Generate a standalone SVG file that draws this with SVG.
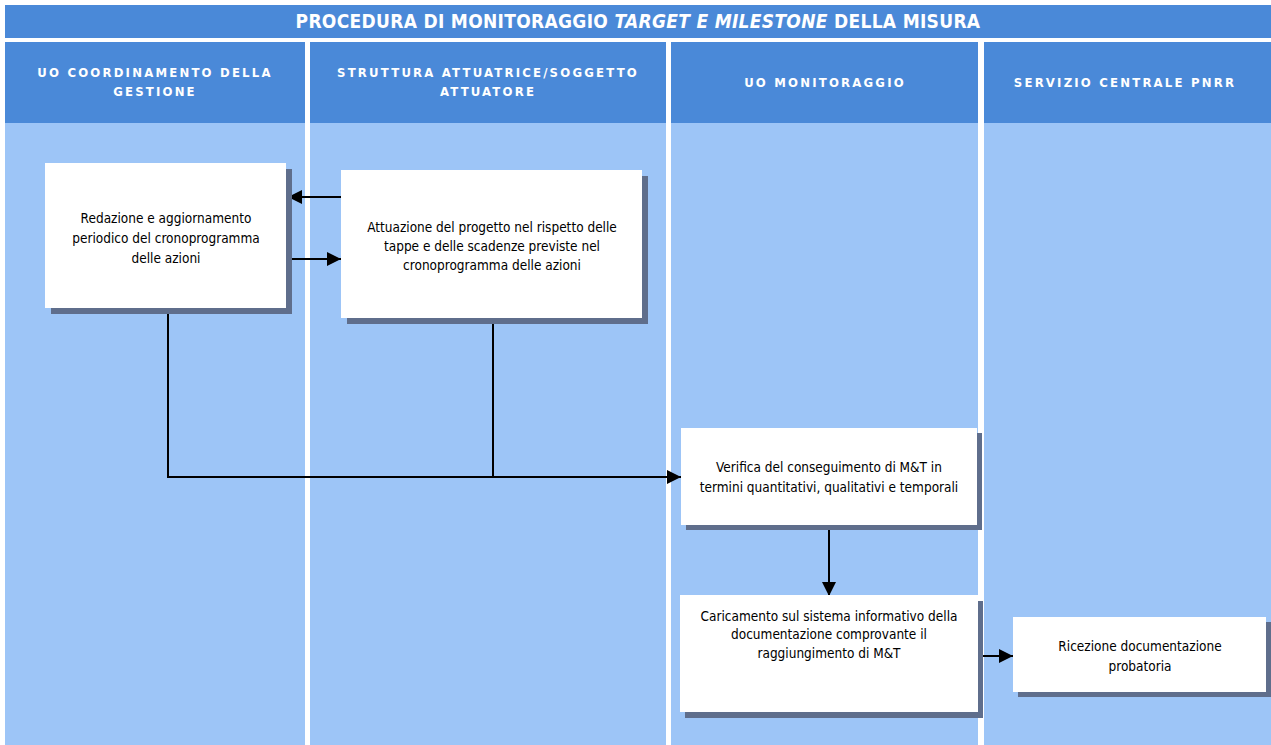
<svg xmlns="http://www.w3.org/2000/svg" width="1271" height="745" viewBox="0 0 1271 745">
<defs>
<style>
.hdr{fill:#4a89d8}
.lane{fill:#9dc5f7}
.box{fill:#ffffff}
.sh{fill:#5f6e8c}
.ht{font-family:"DejaVu Sans Condensed","Liberation Sans",sans-serif;font-weight:bold;font-size:13px;fill:#ffffff;text-anchor:middle;letter-spacing:2.2px}
.tt{font-family:"DejaVu Sans Condensed","Liberation Sans",sans-serif;font-weight:bold;font-size:19px;fill:#ffffff;text-anchor:middle;letter-spacing:0.3px}
.bt{font-family:"DejaVu Sans Condensed","Liberation Sans",sans-serif;font-size:13.5px;fill:#000000;text-anchor:middle}
.ln{stroke:#000;stroke-width:2;fill:none}
</style>
<marker id="ah2" viewBox="0 0 10 10" refX="10" refY="5" markerWidth="14" markerHeight="14" markerUnits="userSpaceOnUse" orient="auto">
<path d="M0,0 L10,5 L0,10 z" fill="#000"/>
</marker>
</defs>
<rect width="1271" height="745" fill="#ffffff"/>
<g id="title">
<rect class="hdr" x="5" y="5" width="1266" height="33"/>
<text class="tt" x="638" y="28">PROCEDURA DI MONITORAGGIO <tspan font-style="italic">TARGET E MILESTONE</tspan> DELLA MISURA</text>
</g>
<g id="lane1">
<rect class="hdr" x="5" y="42" width="300" height="81"/>
<rect class="lane" x="5" y="123" width="300" height="622"/>
<text class="ht" x="155" y="77">UO COORDINAMENTO DELLA</text>
<text class="ht" x="155" y="96">GESTIONE</text>
</g>
<g id="lane2">
<rect class="hdr" x="310" y="42" width="356" height="81"/>
<rect class="lane" x="310" y="123" width="356" height="622"/>
<text class="ht" x="488" y="77">STRUTTURA ATTUATRICE/SOGGETTO</text>
<text class="ht" x="488" y="96">ATTUATORE</text>
</g>
<g id="lane3">
<rect class="hdr" x="671" y="42" width="307" height="81"/>
<rect class="lane" x="671" y="123" width="307" height="622"/>
<text class="ht" x="825" y="87">UO MONITORAGGIO</text>
</g>
<g id="lane4">
<rect class="hdr" x="984" y="42" width="287" height="81"/>
<rect class="lane" x="984" y="123" width="287" height="622"/>
<text class="ht" x="1125" y="87">SERVIZIO CENTRALE PNRR</text>
</g>
<g id="connectors">
<line class="ln" x1="341" y1="197" x2="288" y2="197" marker-end="url(#ah2)"/>
<line class="ln" x1="288" y1="259" x2="341" y2="259" marker-end="url(#ah2)"/>
<polyline class="ln" points="168,309 168,477 681,477" marker-end="url(#ah2)"/>
<line class="ln" x1="493" y1="319" x2="493" y2="477"/>
<line class="ln" x1="829" y1="526" x2="829" y2="596" marker-end="url(#ah2)"/>
<line class="ln" x1="980" y1="656" x2="1013" y2="656" marker-end="url(#ah2)"/>
</g>
<g id="n1">
<rect class="sh" x="51" y="169" width="241" height="145"/>
<rect class="box" x="45" y="163" width="241" height="145"/>
<text class="bt" x="166" y="223">Redazione  e aggiornamento</text>
<text class="bt" x="166" y="243">periodico  del cronoprogramma</text>
<text class="bt" x="166" y="263">delle  azioni</text>
</g>
<g id="n2">
<rect class="sh" x="347" y="176" width="301" height="148"/>
<rect class="box" x="341" y="170" width="301" height="148"/>
<text class="bt" x="492" y="232">Attuazione  del progetto  nel rispetto  delle</text>
<text class="bt" x="492" y="251">tappe  e delle scadenze previste  nel</text>
<text class="bt" x="492" y="270">cronoprogramma    delle azioni</text>
</g>
<g id="n3">
<rect class="sh" x="686" y="433" width="296" height="97"/>
<rect class="box" x="681" y="428" width="296" height="97"/>
<text class="bt" x="829" y="472">Verifica del  conseguimento  di M&amp;T in</text>
<text class="bt" x="829" y="492">termini  quantitativi,   qualitativi  e temporali</text>
</g>
<g id="n4">
<rect class="sh" x="685" y="601" width="298" height="117"/>
<rect class="box" x="680" y="595" width="298" height="117"/>
<text class="bt" x="829" y="621">Caricamento  sul sistema  informativo  della</text>
<text class="bt" x="829" y="639">documentazione  comprovante   il</text>
<text class="bt" x="829" y="658">raggiungimento  di M&amp;T</text>
</g>
<g id="n5">
<rect class="sh" x="1018" y="622" width="253" height="75"/>
<rect class="box" x="1013" y="617" width="253" height="75"/>
<text class="bt" x="1140" y="651">Ricezione documentazione</text>
<text class="bt" x="1140" y="671">probatoria</text>
</g>
</svg>
